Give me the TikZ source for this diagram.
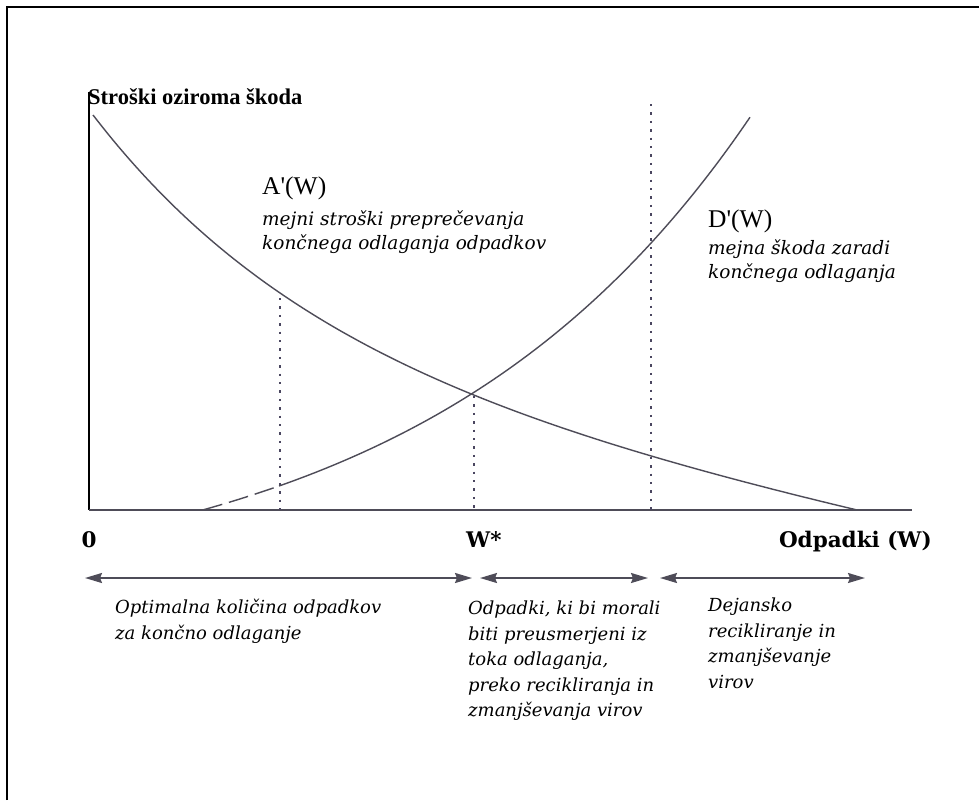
\documentclass[tikz,border=0pt]{standalone}
\usepackage{fontspec}
\setmainfont{DejaVu Serif}
\newfontfamily\titlefont{Liberation Serif}
\newfontfamily\labfont{Liberation Serif}
\usetikzlibrary{arrows.meta}
\definecolor{ink}{HTML}{4E4C58}
\definecolor{dotink}{HTML}{4A4660}
\tikzset{
  curve/.style={draw=ink, line width=1.4pt},
  guide/.style={draw=dotink, line width=2.4pt, dash pattern=on 2.4pt off 6pt},
  span/.style={draw=ink, line width=1.9pt, {Stealth[length=17pt,width=10pt,inset=2pt]}-{Stealth[length=17pt,width=10pt,inset=2pt]}},
  axislabel/.style={inner sep=0pt, font=\bfseries\fontsize{21.5}{25}\selectfont},
  fnlabel/.style={inner sep=0pt, anchor=base west, font=\labfont\fontsize{25.5}{28}\selectfont},
  note/.style={inner sep=0pt, anchor=north west, align=left, font=\itshape\fontsize{18}{25.5}\selectfont},
  topnote/.style={note, font=\itshape\fontsize{18.5}{23.5}\selectfont},
}
\begin{document}
\begin{tikzpicture}[x=1pt,y=-1pt]
\useasboundingbox (0,0) rectangle (979,800);
\fill[white] (0,0) rectangle (979,800);
% frame: top and left edges only
\draw[black, line width=2.6pt] (7,800) -- (7,7) -- (979,7);

% axes
\coordinate (O) at (89,510);
\coordinate (ytop) at (89,92);
\coordinate (xend) at (912,510);
\draw[black, line width=1.6pt] (ytop) -- (O);
\draw[curve, line width=1.6pt] (O) -- (xend);

% marginal abatement cost A'(W), falling to zero at W = 857
\draw[curve] plot[domain=0:764, samples=90, smooth]
  ({93+\x}, {510 - (250.9*(exp(-0.0044*\x)-0.0347) + 0.2*(764-\x))});
% marginal damage D'(W): dashed near the origin, solid beyond
\draw[curve, dash pattern=on 20pt off 7pt] plot[domain=203:279, samples=12, smooth]
  (\x, {510 - (116*exp(0.003043*(\x-279)) - 92)});
\draw[curve] plot[domain=279:750, samples=80, smooth]
  (\x, {510 - (116*exp(0.003043*(\x-279)) - 92)});

% dotted guides
\coordinate (g1t) at (280,298); \coordinate (g1b) at (280,510);
\coordinate (g2t) at (474,396); \coordinate (g2b) at (474,510);
\coordinate (g3t) at (651,104); \coordinate (g3b) at (651,510);
\draw[guide] (g1t) -- (g1b);
\draw[guide] (g2t) -- (g2b);
\draw[guide] (g3t) -- (g3b);

% axis labels
\node[inner sep=0pt, anchor=base west, font=\titlefont\bfseries\fontsize{22.5}{25}\selectfont] (ylab) at (88,104) {Stroški oziroma škoda};
\node[axislabel, anchor=base] (zero) at (89,547) {0};
\node[axislabel, anchor=base west] (wstar) at (466,547) {W*};
\node[axislabel, anchor=base east] (xlab) at (932,547) {Odpadki (W)};

% curve labels
\node[fnlabel] (alab) at (262,194) {A'(W)};
\node[topnote] (adesc) at (262,211) {mejni stroški preprečevanja\\končnega odlaganja odpadkov};
\node[fnlabel] (dlab) at (708,227) {D'(W)};
\node[topnote] (ddesc) at (708,240) {mejna škoda zaradi\\končnega odlaganja};

% ranges along the waste axis
\coordinate (r1a) at (85,578);  \coordinate (r1b) at (472,578);
\coordinate (r2a) at (480,578); \coordinate (r2b) at (648,578);
\coordinate (r3a) at (660,578); \coordinate (r3b) at (865,578);
\draw[span] (r1a) -- (r1b);
\draw[span] (r2a) -- (r2b);
\draw[span] (r3a) -- (r3b);

\node[note] (n1) at (115,599) {Optimalna količina odpadkov\\za končno odlaganje};
\node[note] (n2) at (468,601) {Odpadki, ki bi morali\\biti preusmerjeni iz\\toka odlaganja,\\preko recikliranja in\\zmanjševanja virov};
\node[note] (n3) at (708,598) {Dejansko\\recikliranje in\\zmanjševanje\\virov};
\end{tikzpicture}
\end{document}
